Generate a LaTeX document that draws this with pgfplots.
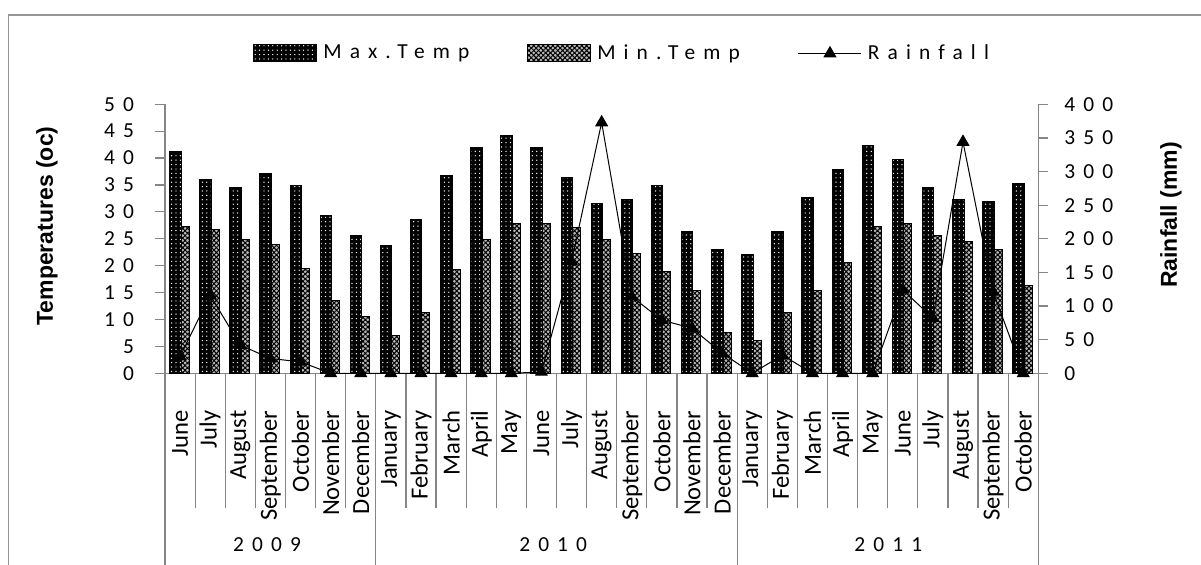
\documentclass[border=0pt]{standalone}
\usepackage{fontspec}
\setmainfont{Carlito}
\newfontfamily\spaced[LetterSpace=38]{Carlito}
\newfontfamily\titlefont{Liberation Sans}
\usepackage{pgfplots}
\usepackage{pgfplotstable}
\pgfplotsset{compat=1.18}
\usetikzlibrary{patterns.meta}

\definecolor{axisgray}{RGB}{134,134,134}
\definecolor{framegray}{RGB}{150,150,150}

% index, max temp, min temp (oC), rainfall (mm)
\pgfplotstableread{
x  maxt mint rain
0  41.2 27.2 25
1  36.1 26.8 116
2  34.6 24.9 42
3  37.2 23.9 22
4  34.9 19.4 17
5  29.4 13.5 0
6  25.7 10.5 0
7  23.8 7.1  0
8  28.6 11.3 0
9  36.7 19.3 0
10 41.9 24.9 0
11 44.2 27.9 0
12 41.9 27.9 2
13 36.4 27.1 166
14 31.5 24.9 373
15 32.3 22.3 114
16 34.9 19.0 79
17 26.4 15.3 67
18 23.0 7.6  30
19 22.0 6.1  0
20 26.4 11.3 27
21 32.7 15.3 0
22 37.9 20.6 0
23 42.4 27.2 0
24 39.8 27.9 124
25 34.6 25.7 82
26 32.3 24.5 344
27 32.0 23.0 121
28 35.3 16.4 0
}\climate

\tikzset{
  maxfill/.style={fill=black, draw=black, line width=0.5pt,
    postaction={pattern color=white, pattern={Dots[distance=2.2pt,radius=0.35pt]}}},
  minfill/.style={fill=gray!55, draw=black, line width=0.5pt,
    postaction={pattern color=black, pattern={Hatch[angle=45,distance=1.7pt,line width=0.5pt]}}},
}
\pgfplotsset{
  boxlegend/.style={legend image code/.code={\draw[##1] (0pt,-4.25pt) rectangle (31.5pt,4.25pt);}},
  linelegend/.style={legend image code/.code={\draw[mark repeat=2,mark phase=2,##1] plot coordinates {(0pt,0pt) (15.75pt,0pt) (31.5pt,0pt)};}},
  common/.style={
    at={(82.5pt,-186.65pt)}, anchor=south west,
    width=436.65pt, height=134.5pt, scale only axis,
    xmin=-0.5, xmax=28.5,
    tick align=outside, major tick length=5pt,
    axis line style={axisgray, line width=0.6pt},
    ytick style={axisgray, line width=0.6pt},
    /pgf/number format/assume math mode=true,
    clip=false,
  },
}

\begin{document}
\begin{tikzpicture}
\useasboundingbox (0,0) rectangle (600.5pt,-282.5pt);
\clip (0,0) rectangle (600.5pt,-282.5pt);
\draw[framegray, line width=0.8pt] (4.15pt,-300pt) -- (4.15pt,-7.5pt) -- (700pt,-7.5pt);

\begin{axis}[common,
  ymin=0, ymax=50, ytick={0,5,...,50},
  yticklabel style={font=\spaced\fontsize{10.7}{12}\selectfont, xshift=-7pt},
  axis y line*=left, axis x line*=bottom,
  xtick={0,...,28},
  xticklabels={June,July,August,September,October,November,December,
    January,February,March,April,May,June,July,August,September,October,November,December,
    January,February,March,April,May,June,July,August,September,October},
  xtick style={draw=none},
  xticklabel style={rotate=90, anchor=east, inner sep=0pt, font=\fontsize{12.3}{14}\selectfont},
  xticklabel shift=13.5pt,
  extra x ticks={-0.5,0.5,...,28.5}, extra x tick labels={},
  extra x tick style={major tick length=67.5pt, xtick style={draw=axisgray, line width=0.6pt}},
  every axis y label/.style={at={(-0.1351,0.5476)}, rotate=90, anchor=center,
    font=\titlefont\bfseries\fontsize{11.5}{13}\selectfont},
  ylabel={Temperatures (oc)},
]
\addplot[ybar, maxfill, bar width=5.75pt, bar shift=-2.375pt] table[x=x, y=maxt]{\climate};
\addplot[ybar, minfill, bar width=4pt, bar shift=2.5pt] table[x=x, y=mint]{\climate};
\draw[axisgray, line width=0.6pt] (axis cs:-0.5,0) -- ++(0pt,-110pt);
\draw[axisgray, line width=0.6pt] (axis cs:6.5,0) -- ++(0pt,-110pt);
\draw[axisgray, line width=0.6pt] (axis cs:18.5,0) -- ++(0pt,-110pt);
\draw[axisgray, line width=0.6pt] (axis cs:28.5,0) -- ++(0pt,-110pt);
\node[font=\spaced\fontsize{10.7}{12}\selectfont] at (axis cs:2.89,-31.9) {2009};
\node[font=\spaced\fontsize{10.7}{12}\selectfont] at (axis cs:12.39,-31.9) {2010};
\node[font=\spaced\fontsize{10.7}{12}\selectfont] at (axis cs:23.52,-31.9) {2011};
\end{axis}

\begin{axis}[common,
  ymin=0, ymax=400, ytick={0,50,...,400},
  yticklabel style={font=\spaced\fontsize{10.7}{12}\selectfont, xshift=4.5pt},
  axis y line*=right, hide x axis,
  every axis y label/.style={at={(1.152,0.5885)}, rotate=90, anchor=center,
    font=\titlefont\bfseries\fontsize{11.5}{13}\selectfont},
  ylabel={Rainfall (mm)},
  legend columns=3,
  legend style={at={(0.1008,1.189)}, anchor=west, draw=none, fill=none, inner sep=0pt,
    font=\spaced\fontsize{10.7}{12}\selectfont,
    nodes={inner xsep=3pt},
    /tikz/every even column/.append style={column sep=26pt}},
]
\addlegendimage{maxfill, boxlegend}
\addlegendentry{Max.Temp}
\addlegendimage{minfill, boxlegend}
\addlegendentry{Min.Temp}
\addplot[black, line width=0.5pt, mark=triangle*, mark size=3.3pt, linelegend]
  table[x=x, y=rain]{\climate};
\addlegendentry{Rainfall}
\end{axis}
\end{tikzpicture}
\end{document}
